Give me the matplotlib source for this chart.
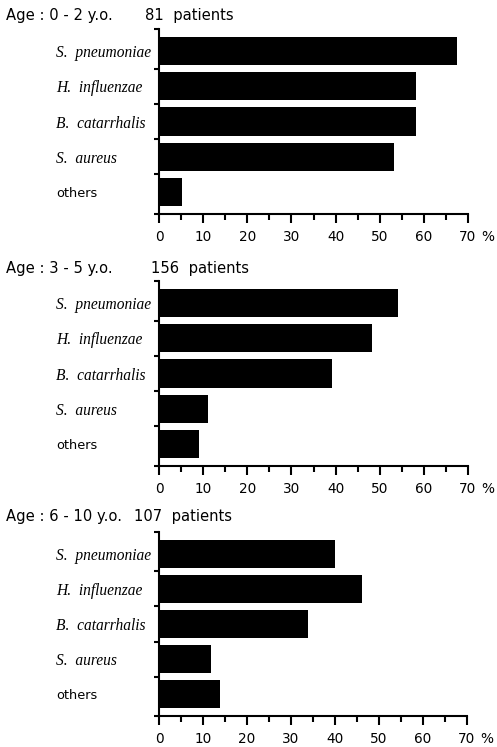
import matplotlib
matplotlib.use("Agg")
import matplotlib.pyplot as plt
import numpy as np

categories = ["S.  pneumoniae", "H.  influenzae", "B.  catarrhalis", "S.  aureus", "others"]
age_groups = ["Age : 0 - 2 y.o.", "Age : 3 - 5 y.o.", "Age : 6 - 10 y.o."]
patients = ["81  patients", "156  patients", "107  patients"]
values_0_2 = [67.4, 58.3, 58.3, 53.3, 5.1]
values_3_5 = [54.2, 48.2, 39.1, 11.0, 9.1]
values_6_10 = [40.1, 46.1, 34.0, 11.9, 13.9]
series = [values_0_2, values_3_5, values_6_10]
xticks = [0, 10, 20, 30, 40, 50, 60, 70]

W, H = 497, 747
fig = plt.figure(figsize=(W / 100, H / 100), dpi=100)

# panel geometry in pixels: (axes top, axes bottom, title baseline, patients x, axes right)
panels = [
    (29, 214, 20, 145, 468),
    (281, 466, 273.5, 151, 468),
    (532, 716, 520.7, 134, 466.7),
]
left_px = 159
lo, hi = -0.62, 4.62

for (top, bot, base, px, right), vals, age, pat in zip(panels, series, age_groups, patients):
    ax = fig.add_axes([left_px / W, 1 - bot / H, (right - left_px) / W, (bot - top) / H])
    y = np.arange(len(categories))
    ax.barh(y, vals, height=0.8, color="black")
    ax.set_xlim(0, 70)
    ax.set_ylim(hi, lo)
    for s in ["top", "right"]:
        ax.spines[s].set_visible(False)
    for s in ["left", "bottom"]:
        ax.spines[s].set_linewidth(1.5)
    ax.set_xticks(xticks)
    ax.set_xticks(np.arange(5, 70, 10), minor=True)
    ax.tick_params(axis="x", which="major", length=6.5, width=1.5, pad=5, labelsize=9.8)
    ax.tick_params(axis="x", which="minor", length=4.5, width=1.5)
    ax.set_yticks(y)
    ax.set_yticklabels(categories)
    ax.set_yticks([lo, 0.5, 1.5, 2.5, 3.5, hi], minor=True)
    ax.tick_params(axis="y", which="major", length=0, pad=74)
    ax.tick_params(axis="y", which="minor", length=3.5, width=1.5)
    for i, lbl in enumerate(ax.get_yticklabels()):
        lbl.set_ha("left")
        if i < 4:
            lbl.set_fontfamily("Liberation Serif")
            lbl.set_fontstyle("italic")
            lbl.set_fontsize(11.2)
        else:
            lbl.set_fontfamily("DejaVu Sans")
            lbl.set_fontsize(9.3)
    ax.annotate("%", xy=(1, 0), xycoords="axes fraction",
                xytext=(14.5, -11.5), textcoords="offset points",
                ha="center", va="top", fontsize=9.8)
    fig.text(6 / W, 1 - base / H, age, ha="left", va="baseline", fontsize=10.6)
    fig.text(px / W, 1 - base / H, pat, ha="left", va="baseline", fontsize=10.6)

fig.savefig("out.png", dpi=100)
